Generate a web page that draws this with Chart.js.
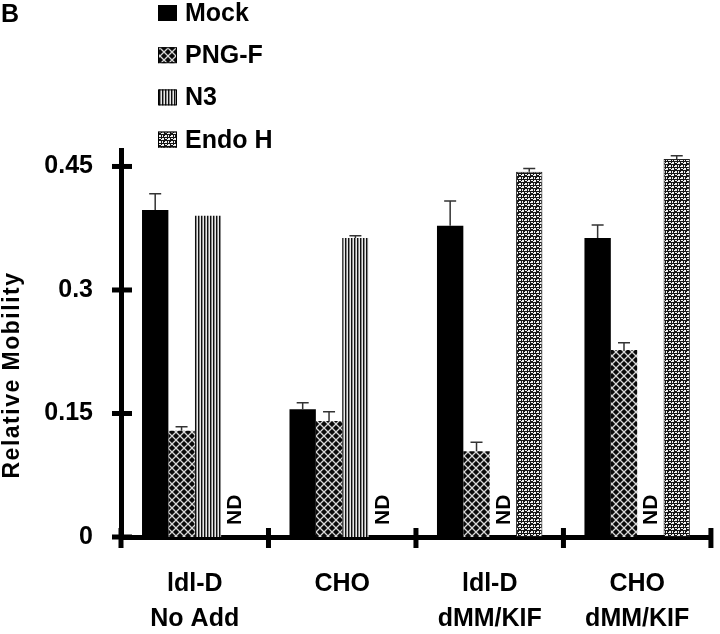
<!DOCTYPE html>
<html>
<head>
<meta charset="utf-8">
<script src="https://cdn.jsdelivr.net/npm/chart.js@4.4.1/dist/chart.umd.min.js"></script>
<style>
  html, body { margin: 0; padding: 0; background: #fff; }
</style>
</head>
<body>
<canvas id="mobilityBar" width="720" height="634"></canvas>
<script>
// -------- data -------- //
var categories = [['ldl-D', 'No Add'], ['CHO'], ['ldl-D', 'dMM/KIF'], ['CHO', 'dMM/KIF']];
var seriesNames = ['Mock', 'PNG-F', 'N3', 'Endo H'];
var mock = [0.397, 0.155, 0.378, 0.363];
var mockErr = [0.020, 0.008, 0.030, 0.016];
var pngf = [0.129, 0.141, 0.104, 0.227];
var pngfErr = [0.005, 0.011, 0.011, 0.009];
var n3 = [0.390, 0.363, null, null];
var n3Err = [0, 0.003, 0, 0];
var endoH = [null, null, 0.4435, 0.459];
var endoHErr = [0, 0, 0.004, 0.004];
var yTicks = [0, 0.15, 0.3, 0.45];
var ndLabel = 'ND';

var FONT = '"Liberation Sans", Arial, Helvetica, sans-serif';
Chart.defaults.font.family = FONT;
Chart.defaults.color = '#000';

var canvas = document.getElementById('mobilityBar');
var ctx = canvas.getContext('2d');

// -------- fill patterns -------- //
function makePattern(w, h, draw) {
    var c = document.createElement('canvas');
    c.width = w; c.height = h;
    draw(c.getContext('2d'));
    return ctx.createPattern(c, 'repeat');
}

var crossPattern = makePattern(8, 8, function (g) {
    g.fillStyle = '#0a0a0a';
    g.fillRect(0, 0, 8, 8);
    g.strokeStyle = '#d8d8d8';
    g.lineWidth = 1.3;
    g.beginPath();
    g.moveTo(0, 0); g.lineTo(8, 8);
    g.moveTo(8, 0); g.lineTo(0, 8);
    g.stroke();
});

var stripePattern = makePattern(3, 1, function (g) {
    g.fillStyle = '#111'; g.fillRect(0, 0, 1, 1);
    g.fillStyle = '#8a8a8a'; g.fillRect(1, 0, 1, 1);
    g.fillStyle = '#e8e8e8'; g.fillRect(2, 0, 1, 1);
});

var dotPattern = makePattern(6, 6, function (g) {
    g.fillStyle = '#151515';
    g.fillRect(0, 0, 6, 6);
    g.fillStyle = '#f0f0f0';
    g.fillRect(0, 0, 2, 2);
    g.fillRect(3, 3, 2, 2);
    g.fillRect(3, 0, 2, 1);
    g.fillRect(0, 3, 1, 2);
    g.fillRect(2, 4, 1, 1);
    g.fillRect(5, 1, 1, 1);
});

// -------- extra drawing: axes ticks, error bars, ND, legend, titles -------- //
var figurePlugin = {
    id: 'figurePlugin',
    afterDatasetsDraw: function (chart) {
        var c = chart.ctx;
        var y = chart.scales.y;
        c.save();
        chart.data.datasets.forEach(function (ds, i) {
            var meta = chart.getDatasetMeta(i);
            ds.data.forEach(function (v, j) {
                var el = meta.data[j];
                if (v === null) {
                    c.save();
                    c.translate(el.x, chart.chartArea.bottom - 12);
                    c.rotate(-Math.PI / 2);
                    c.font = 'bold 21px ' + FONT;
                    c.fillStyle = '#000';
                    c.textAlign = 'left';
                    c.textBaseline = 'middle';
                    c.fillText(ndLabel, 0, 1);
                    c.restore();
                    return;
                }
                var e = ds.err[j];
                if (!e) return;
                var top = y.getPixelForValue(v + e);
                c.strokeStyle = '#333';
                c.lineWidth = 1.5;
                c.beginPath();
                c.moveTo(el.x, el.y);
                c.lineTo(el.x, top);
                c.moveTo(el.x - 6, top);
                c.lineTo(el.x + 6, top);
                c.stroke();
            });
        });
        c.restore();
    },
    afterDraw: function (chart) {
        var c = chart.ctx;
        var area = chart.chartArea;
        var x = chart.scales.x;
        var y = chart.scales.y;
        c.save();
        c.fillStyle = '#000';
        // crossing ticks on the y axis
        yTicks.forEach(function (v) {
            var py = y.getPixelForValue(v);
            c.fillRect(area.left - 9, py - 2.5, 20, 5);
        });
        // crossing ticks at category boundaries
        var n = chart.data.labels.length;
        for (var i = 0; i <= n; i++) {
            var px = x.left + i * (x.width / n);
            c.fillRect(px - 2.5, area.bottom - 9, 5, 20);
        }

        // panel letter
        c.font = 'bold 25px ' + FONT;
        c.textAlign = 'left';
        c.textBaseline = 'alphabetic';
        c.fillText('B', 1, 22);

        // legend, one entry per row
        chart.data.datasets.forEach(function (ds, i) {
            var top = 5 + i * 42.2;
            c.fillStyle = ds.backgroundColor;
            c.fillRect(158, top, 19, 16);
            c.strokeStyle = '#000';
            c.lineWidth = 1;
            c.strokeRect(158.5, top + 0.5, 18, 15);
            c.fillStyle = '#000';
            c.font = 'bold 25px ' + FONT;
            c.textBaseline = 'alphabetic';
            c.fillText(ds.label, 185, top + 16);
        });

        // y axis title
        c.save();
        c.translate(13, 375);
        c.rotate(-Math.PI / 2);
        c.font = 'bold 23px ' + FONT;
        c.textAlign = 'center';
        c.textBaseline = 'middle';
        if ('letterSpacing' in c) c.letterSpacing = '1.5px';
        c.fillText('Relative Mobility', 0, 0);
        c.restore();

        c.restore();
    }
};

new Chart(ctx, {
    type: 'bar',
    data: {
        labels: categories,
        datasets: [
            { label: seriesNames[0], data: mock, err: mockErr, backgroundColor: '#000' },
            { label: seriesNames[1], data: pngf, err: pngfErr, backgroundColor: crossPattern },
            { label: seriesNames[2], data: n3, err: n3Err, backgroundColor: stripePattern },
            { label: seriesNames[3], data: endoH, err: endoHErr, backgroundColor: dotPattern, borderColor: '#222', borderWidth: 1 }
        ]
    },
    options: {
        responsive: false,
        animation: false,
        categoryPercentage: 0.715,
        barPercentage: 1,
        layout: { padding: { top: 150, right: 6, left: 0, bottom: 0 } },
        plugins: {
            legend: { display: false },
            tooltip: { enabled: false }
        },
        scales: {
            x: {
                grid: { display: false, drawTicks: false },
                border: { color: '#000', width: 5 },
                ticks: {
                    color: '#000',
                    maxRotation: 0,
                    padding: 30,
                    font: { size: 25, weight: 'bold', lineHeight: 1.4 }
                },
                afterFit: function (s) { s.height = 97; }
            },
            y: {
                min: 0,
                max: 0.47,
                afterBuildTicks: function (s) {
                    s.ticks = yTicks.map(function (v) { return { value: v }; });
                },
                grid: { display: false, drawTicks: false },
                border: { color: '#000', width: 5 },
                ticks: {
                    color: '#000',
                    padding: 28,
                    font: { size: 25, weight: 'bold' },
                    callback: function (v) { return String(v); }
                },
                afterFit: function (s) { s.width = 121; }
            }
        }
    },
    plugins: [figurePlugin]
});
</script>
</body>
</html>
